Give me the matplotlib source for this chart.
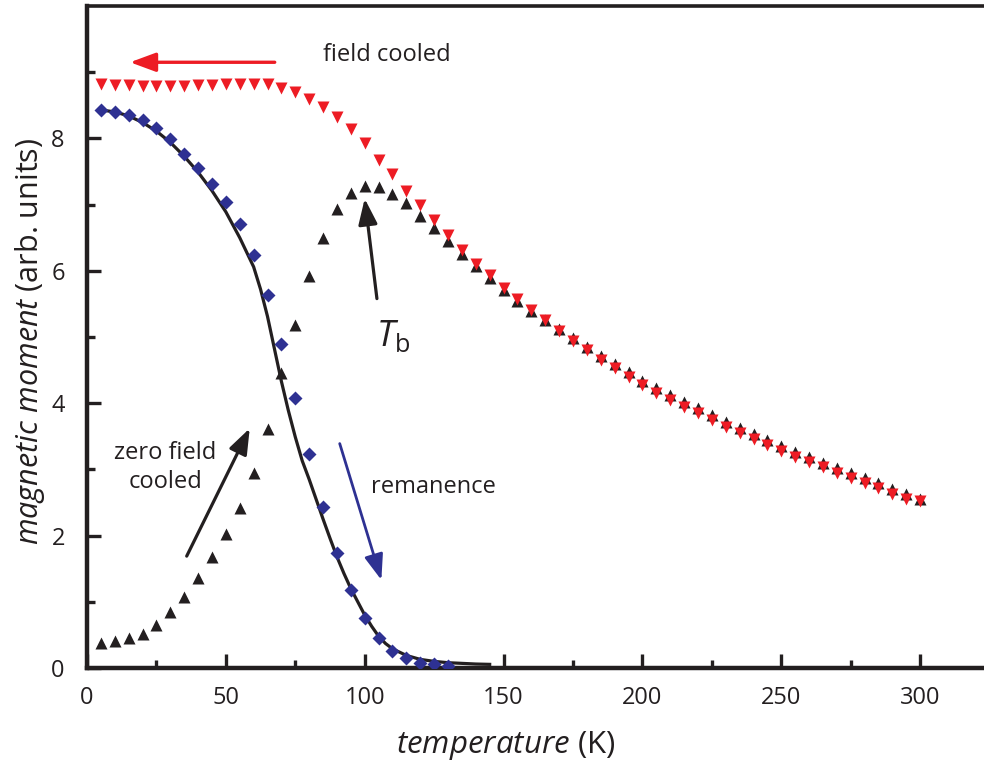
import matplotlib.pyplot as plt
from matplotlib.ticker import FixedLocator

plt.rcParams["font.family"] = ["Open Sans", "DejaVu Sans"]
plt.rcParams["mathtext.fontset"] = "custom"
plt.rcParams["mathtext.rm"] = "Open Sans"
plt.rcParams["mathtext.it"] = "Open Sans:italic"

INK = "#231f20"
RED = "#ed1c24"
BLUE = "#2e3192"

# field cooled (red) and zero field cooled (black), measured every 5 K
temp_fc = [5, 10, 15, 20, 25, 30, 35, 40, 45, 50, 55, 60, 65, 70, 75, 80, 85, 90, 95, 100,
           105, 110, 115, 120, 125, 130, 135, 140, 145, 150, 155, 160, 165, 170, 175, 180, 185, 190, 195, 200,
           205, 210, 215, 220, 225, 230, 235, 240, 245, 250, 255, 260, 265, 270, 275, 280, 285, 290, 295, 300]
moment_fc = [8.82, 8.81, 8.80, 8.79, 8.79, 8.79, 8.79, 8.80, 8.80, 8.82, 8.82, 8.82, 8.82, 8.76, 8.70, 8.59, 8.47, 8.32, 8.14, 7.93,
             7.68, 7.46, 7.21, 6.99, 6.77, 6.54, 6.32, 6.11, 5.94, 5.74, 5.57, 5.41, 5.25, 5.09, 4.94, 4.80, 4.66, 4.53, 4.40, 4.27,
             4.16, 4.05, 3.95, 3.85, 3.74, 3.64, 3.55, 3.46, 3.37, 3.28, 3.18, 3.11, 3.03, 2.94, 2.87, 2.79, 2.72, 2.63, 2.56, 2.52]
moment_zfc = [0.38, 0.41, 0.46, 0.52, 0.65, 0.84, 1.08, 1.36, 1.67, 2.02, 2.41, 2.94, 3.61, 4.45, 5.18, 5.92, 6.50, 6.93, 7.18, 7.28,
              7.26, 7.16, 7.02, 6.83, 6.64, 6.45, 6.26, 6.08, 5.89, 5.71, 5.54, 5.39, 5.25, 5.12, 4.98, 4.85, 4.72, 4.59, 4.47, 4.34,
              4.23, 4.12, 4.02, 3.92, 3.82, 3.72, 3.63, 3.53, 3.44, 3.36, 3.26, 3.18, 3.10, 3.02, 2.94, 2.87, 2.79, 2.71, 2.63, 2.55]

# remanence (blue diamonds)
temp_rem = [5, 10, 15, 20, 25, 30, 35, 40, 45, 50, 55, 60, 65, 70, 75, 80, 85, 90, 95, 100, 105, 110, 115, 120, 125, 130]
moment_rem = [8.43, 8.40, 8.35, 8.28, 8.15, 7.99, 7.76, 7.55, 7.31, 7.04, 6.70, 6.24, 5.63, 4.89, 4.08, 3.23, 2.43,
              1.74, 1.18, 0.75, 0.45, 0.26, 0.15, 0.08, 0.06, 0.03]

# solid black curve
temp_fit = [5, 10, 15, 20, 25, 30, 35, 40, 45, 50, 55, 60, 62.5, 65, 67.5, 70, 72.5, 75, 77.5, 80, 82.5, 85, 87.5,
            90, 92.5, 95, 97.5, 100, 102.5, 105, 107.5, 110, 115, 120, 125, 130, 135, 140, 145]
moment_fit = [8.43, 8.40, 8.34, 8.24, 8.11, 7.94, 7.73, 7.49, 7.21, 6.89, 6.50, 6.06, 5.72, 5.31, 4.82, 4.33, 3.89,
              3.49, 3.13, 2.85, 2.55, 2.25, 1.96, 1.68, 1.43, 1.20, 1.00, 0.80, 0.63, 0.48, 0.37, 0.29, 0.19, 0.13,
              0.10, 0.08, 0.07, 0.06, 0.055]

x_major = [0, 50, 100, 150, 200, 250, 300]
x_minor = [25, 75, 125, 175, 225, 275]
y_major = [0, 2, 4, 6, 8]
y_minor = [1, 3, 5, 7, 9]


def flecha(ax, inicio, fin, color, lw=2.3):
    ax.annotate("", xy=fin, xytext=inicio,
                arrowprops=dict(arrowstyle="-|>,head_length=0.65,head_width=0.24", color=color, lw=lw,
                                mutation_scale=24, shrinkA=0, shrinkB=0))


def main():
    fig = plt.figure(figsize=(9.84, 7.62), dpi=100)
    ax = fig.add_axes([87 / 984, 94 / 762, 897 / 984, 662 / 762])

    ax.plot(temp_fit, moment_fit, color=INK, lw=2.3, zorder=2)
    ax.plot(temp_rem, moment_rem, ls="none", marker="D", ms=7.3, color=BLUE, mec="none", zorder=3)
    ax.plot(temp_fc, moment_zfc, ls="none", marker="^", ms=8, color=INK, mec="none", zorder=4)
    ax.plot(temp_fc, moment_fc, ls="none", marker="v", ms=8, color=RED, mec="none", zorder=5)

    ax.set_xlim(0, 323)
    ax.set_ylim(0, 10)

    ax.xaxis.set_major_locator(FixedLocator(x_major))
    ax.xaxis.set_minor_locator(FixedLocator(x_minor))
    ax.yaxis.set_major_locator(FixedLocator(y_major))
    ax.yaxis.set_minor_locator(FixedLocator(y_minor))
    ax.tick_params(which="both", direction="in", color=INK, width=2.4, labelsize=17, labelcolor=INK,
                   top=False, right=False)
    ax.tick_params(which="major", length=10)
    ax.tick_params(which="minor", length=5.5)
    ax.tick_params(axis="x", pad=13)
    ax.tick_params(axis="y", pad=16)

    for lado in ("left", "bottom", "top"):
        ax.spines[lado].set_linewidth(3.2)
        ax.spines[lado].set_color(INK)
    ax.spines["top"].set_linewidth(2.6)
    ax.spines["right"].set_visible(False)

    ax.set_xlabel(r"$\mathit{temperature}$ (K)", fontsize=22.5, color=INK, va="center")
    ax.xaxis.set_label_coords(0.467, -0.117)
    ax.set_ylabel(r"$\mathit{magnetic\ moment}$ (arb. units)", fontsize=22, color=INK, va="center")
    ax.yaxis.set_label_coords(-0.063, 0.494)

    ax.text(107.9, 9.26, "field cooled", fontsize=17, color=INK, ha="center", va="center")
    ax.text(28.3, 3.03, "zero field\ncooled", fontsize=17, color=INK, ha="center", va="center", linespacing=1.3)
    ax.text(124.6, 2.73, "remanence", fontsize=17, color=INK, ha="center", va="center")
    ax.text(110.3, 5.0, r"$\mathit{T}_\mathrm{b}$", fontsize=26, color=INK, ha="center", va="center")

    flecha(ax, (67.6, 9.15), (15.5, 9.15), RED, lw=2.4)
    flecha(ax, (104.4, 5.58), (100.0, 7.09), INK)
    flecha(ax, (35.9, 1.69), (58.6, 3.62), INK)
    flecha(ax, (91.0, 3.39), (106.0, 1.33), BLUE, lw=2.0)

    fig.savefig("out.png", dpi=100)
    plt.close(fig)


if __name__ == "__main__":
    main()
